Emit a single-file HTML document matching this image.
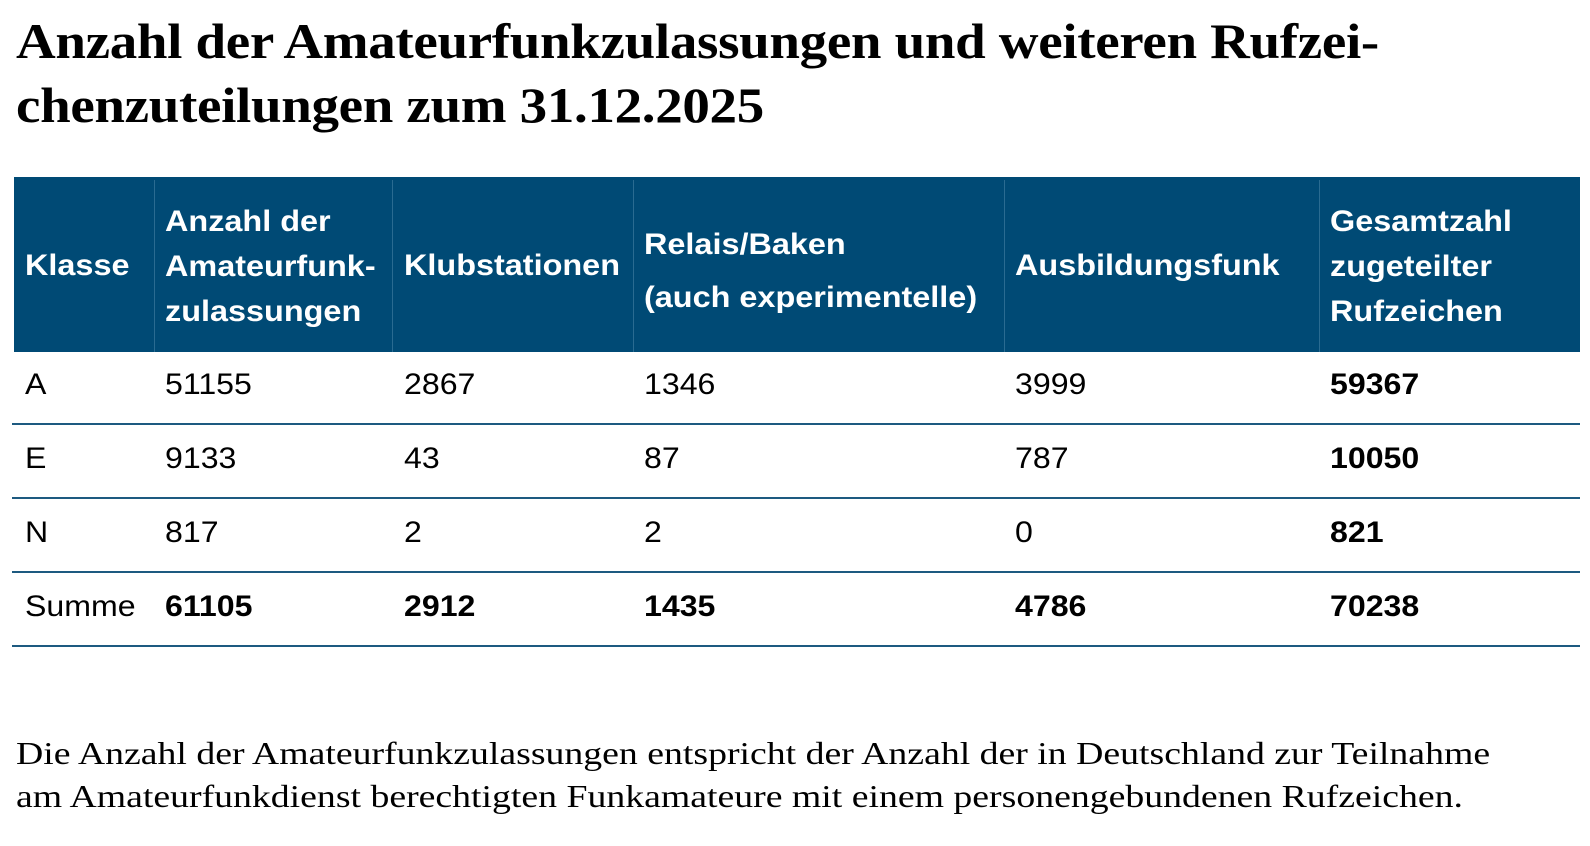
<!DOCTYPE html>
<html><head><meta charset="utf-8"><style>
body{margin:0;width:1590px;height:846px;background:#fff;position:relative;overflow:hidden;color:#000}
.t{position:absolute;left:16px;font-family:"Liberation Serif",serif;font-weight:bold;font-size:50px;white-space:nowrap;letter-spacing:-0.3px;transform:scaleX(1.1);transform-origin:0 0}
.hd{position:absolute;top:177px;height:175px;background:#004a75;left:14px;width:1566px}
.vl{position:absolute;top:180px;height:172px;width:1px;background:#2a6b91}
.h{position:absolute;color:#fff;font-family:"Liberation Sans",sans-serif;font-weight:bold;font-size:30px;line-height:45px;white-space:nowrap;transform:scaleX(1.08);transform-origin:0 0}
.c{position:absolute;font-family:"Liberation Sans",sans-serif;font-size:30px;white-space:nowrap;transform:scaleX(1.07);transform-origin:0 0}
.b{font-weight:bold}
.hl{position:absolute;left:12px;width:1568px;height:2px;background:#1d5a80}
.f{position:absolute;left:16px;font-family:"Liberation Serif",serif;font-size:32px;white-space:nowrap;transform:scaleX(1.18);transform-origin:0 0}
</style></head><body>
<div class="t" style="top:12px">Anzahl der Amateurfunkzulassungen und weiteren Rufzei-</div>
<div class="t" style="top:76px">chenzuteilungen zum 31.12.2025</div>
<div class="hd"></div>
<div class="vl" style="left:154px"></div>
<div class="vl" style="left:392px"></div>
<div class="vl" style="left:633px"></div>
<div class="vl" style="left:1004px"></div>
<div class="vl" style="left:1319px"></div>
<div class="h" style="left:25px;top:243px">Klasse</div>
<div class="h" style="left:165px;top:199px">Anzahl der<br>Amateurfunk-<br>zulassungen</div>
<div class="h" style="left:404px;top:243px">Klubstationen</div>
<div class="h" style="left:644px;top:218px;line-height:53px">Relais/Baken<br>(auch experimentelle)</div>
<div class="h" style="left:1015px;top:243px">Ausbildungsfunk</div>
<div class="h" style="left:1330px;top:199px">Gesamtzahl<br>zugeteilter<br>Rufzeichen</div>

<div class="c" style="left:25px;top:368px">A</div><div class="c" style="left:165px;top:368px">51155</div><div class="c" style="left:404px;top:368px">2867</div><div class="c" style="left:644px;top:368px">1346</div><div class="c" style="left:1015px;top:368px">3999</div><div class="c b" style="left:1330px;top:368px">59367</div>
<div class="hl" style="top:423px"></div>
<div class="c" style="left:25px;top:442px">E</div><div class="c" style="left:165px;top:442px">9133</div><div class="c" style="left:404px;top:442px">43</div><div class="c" style="left:644px;top:442px">87</div><div class="c" style="left:1015px;top:442px">787</div><div class="c b" style="left:1330px;top:442px">10050</div>
<div class="hl" style="top:497px"></div>
<div class="c" style="left:25px;top:516px">N</div><div class="c" style="left:165px;top:516px">817</div><div class="c" style="left:404px;top:516px">2</div><div class="c" style="left:644px;top:516px">2</div><div class="c" style="left:1015px;top:516px">0</div><div class="c b" style="left:1330px;top:516px">821</div>
<div class="hl" style="top:571px"></div>
<div class="c" style="left:25px;top:590px">Summe</div><div class="c b" style="left:165px;top:590px">61105</div><div class="c b" style="left:404px;top:590px">2912</div><div class="c b" style="left:644px;top:590px">1435</div><div class="c b" style="left:1015px;top:590px">4786</div><div class="c b" style="left:1330px;top:590px">70238</div>
<div class="hl" style="top:645px"></div>

<div class="f" style="top:735px">Die Anzahl der Amateurfunkzulassungen entspricht der Anzahl der in Deutschland zur Teilnahme</div>
<div class="f" style="top:778px">am Amateurfunkdienst berechtigten Funkamateure mit einem personengebundenen Rufzeichen.</div>
</body></html>
